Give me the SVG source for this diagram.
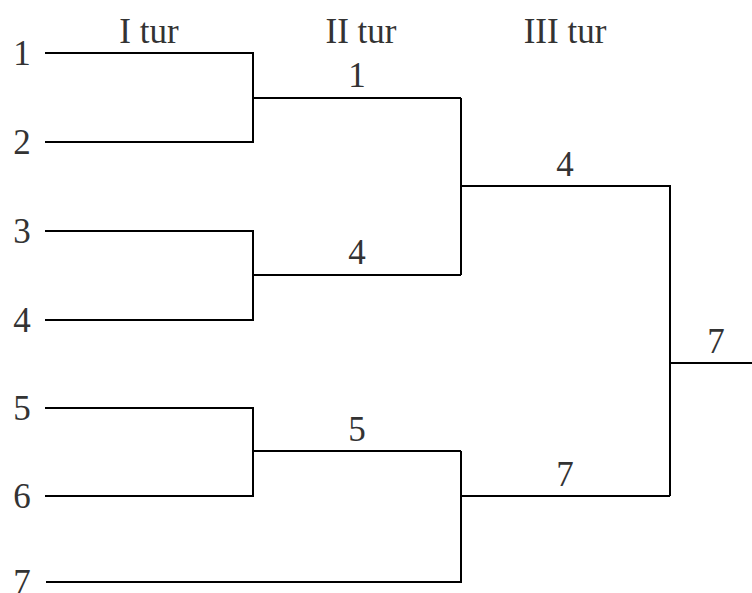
<svg xmlns="http://www.w3.org/2000/svg" width="752" height="593" viewBox="0 0 752 593">
<style>
text{font-family:"Liberation Serif","Times New Roman",serif;font-size:35px;fill:#333;text-anchor:middle}
.c{fill:none;stroke:#000;stroke-width:2}
</style>
<rect width="752" height="593" fill="#fff"/>
<g id="headers">
<text x="149" y="43">I tur</text>
<text x="361" y="43">II tur</text>
<text x="565" y="43">III tur</text>
</g>
<g id="players">
<text x="22" y="65">1</text>
<text x="22" y="154">2</text>
<text x="22" y="243">3</text>
<text x="22" y="332">4</text>
<text x="22" y="420">5</text>
<text x="22" y="508">6</text>
<text x="22" y="594">7</text>
</g>
<g id="round2">
<text x="357" y="87">1</text>
<text x="357" y="264">4</text>
<text x="357" y="441">5</text>
</g>
<g id="round3">
<text x="565" y="176">4</text>
<text x="565" y="486">7</text>
</g>
<g id="winner">
<text x="716" y="353">7</text>
</g>
<g id="connectors" class="c">
<path class="c" d="M45 53H253V142H45M253 98H461"/>
<path class="c" d="M45 231H253V320H45M253 275H461"/>
<path class="c" d="M45 408H253V496H45M253 451H461"/>
<path class="c" d="M46 582H461V451M461 496H670"/>
<path class="c" d="M461 98V275M461 186H670V496M670 363H752"/>
</g>
</svg>
